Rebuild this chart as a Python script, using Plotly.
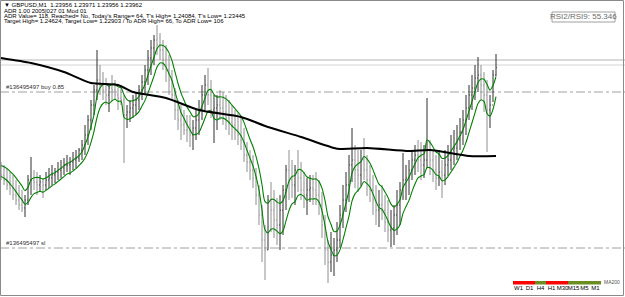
import plotly.graph_objects as go
import pandas as pd

# ---- price data (broker points, 1 point = 0.00001) ----
high_points = [
    123490,123475,123460,123440,123425,123400,123375,123350,123325,123425,
    123515,123450,123440,123425,123410,123440,123460,123475,123460,123490,
    123500,123510,123525,123515,123540,123550,123560,123600,123675,123725,
    123800,123875,124050,123975,123940,123910,123875,123925,123900,123860,
    123875,123825,123775,123800,123825,123835,123875,123925,123975,124050,
    124100,124125,124175,124135,124100,124075,124025,123950,123860,123800,
    123775,123750,123725,123725,123700,123750,123800,123875,123925,123960,
    123900,123825,123825,123850,123840,123825,123800,123775,123750,123740,
    123710,123660,123590,123550,123525,123460,123375,123275,123175,123325,
    123390,123350,123310,123325,123375,123475,123550,123500,123475,123550,
    123490,123440,123410,123425,123425,123440,123400,123340,123225,123100,
    123140,123110,123190,123275,123375,123440,123525,123660,123575,123550,
    123550,123610,123525,123475,123425,123375,123350,123375,123325,123300,
    123250,123275,123350,123390,123535,123475,123500,123550,123575,123600,
    123590,123575,123810,123600,123550,123525,123550,123500,123550,123575,
    123625,123650,123675,123710,123750,123825,123875,123925,123975,124015,
    123975,123940,123900,123825,123950,124030,
]
low_points = [
    123400,123375,123350,123325,123300,123275,123250,123240,123215,123275,
    123325,123350,123325,123340,123310,123350,123360,123375,123385,123400,
    123410,123425,123440,123425,123450,123460,123490,123500,123525,123575,
    123650,123725,123800,123825,123800,123775,123740,123800,123800,123750,
    123775,123485,123660,123690,123710,123725,123750,123800,123825,123875,
    123925,123975,124025,124000,123950,123890,123825,123800,123700,123650,
    123600,123625,123590,123565,123550,123600,123625,123700,123750,123775,
    123710,123585,123650,123700,123675,123650,123625,123600,123600,123575,
    123550,123490,123440,123400,123360,123275,123175,122990,122900,123050,
    123140,123110,123075,123050,123125,123250,123300,123310,123275,123340,
    123300,123260,123225,123290,123275,123275,123225,123110,122975,122885,
    122940,122920,122990,123060,123160,123240,123290,123390,123360,123340,
    123370,123400,123320,123290,123225,123175,123165,123200,123140,123090,
    123065,123075,123125,123175,123300,123300,123325,123400,123425,123440,
    123400,123410,123460,123425,123390,123350,123370,123310,123375,123420,
    123450,123475,123500,123550,123575,123625,123700,123750,123800,123840,
    123800,123740,123540,123660,123790,123920,
]
close_points = [
    123425,123400,123375,123360,123325,123300,123275,123260,123300,123400,
    123400,123390,123375,123390,123375,123400,123410,123425,123440,123450,
    123460,123475,123475,123490,123500,123510,123550,123575,123625,123700,
    123775,123850,123900,123875,123850,123825,123860,123850,123825,123810,
    123800,123725,123740,123760,123775,123800,123850,123890,123950,124010,
    124060,124100,124075,124050,124000,123950,123900,123825,123750,123700,
    123675,123650,123650,123625,123660,123700,123750,123825,123875,123825,
    123750,123760,123775,123760,123740,123710,123690,123675,123650,123625,
    123600,123525,123490,123450,123410,123325,123225,123100,123050,123300,
    123250,123200,123175,123250,123350,123450,123400,123375,123450,123410,
    123350,123325,123350,123360,123350,123325,123275,123175,123050,122990,
    123025,123050,123100,123225,123300,123375,123475,123500,123450,123425,
    123500,123450,123400,123350,123300,123250,123275,123250,123190,123150,
    123160,123225,123275,123350,123400,123410,123450,123500,123525,123500,
    123475,123500,123550,123500,123450,123410,123440,123425,123475,123500,
    123550,123560,123600,123640,123700,123760,123825,123860,123910,123925,
    123875,123825,123750,123775,123925,123962,
]
first_open_point = 123440

# MA200 (black) read at selected bars
ma200_bar = [0, 10, 21, 30, 39, 44, 55, 66, 80, 89, 100, 111, 113, 122, 136, 143, 156, 165]
ma200_price = [1.24010, 1.23985, 1.23940, 1.23885, 1.23875, 1.23840, 1.23810, 1.23750,
               1.23715, 1.23665, 1.23615, 1.23560, 1.23555, 1.23560, 1.23545, 1.23550,
               1.23520, 1.23520]

price_lines = [1.24000, 1.23975]          # solid grey lines
order_levels = [1.23840, 1.23060]         # dash-dot order lines
order_labels = ["#136495497 buy 0.85", "#136495497 sl"]

header_lines = [
    "\u25bc GBPUSD,M1  1.23956 1.23971 1.23956 1.23962",
    "ADR 1.00 2005|027 01 Mod 01",
    "ADR Value= 118, Reached= No, Today's Range= 64, T's High= 1.24084, T's Low= 1.23445",
    "Target High= 1.24624, Target Low= 1.22903 / To ADR High= 66, To ADR Low= 106",
]
rsi_text = "RSI2/RSI9: 55.346"

tf_labels = ["W1", "D1", "H4", "H1", "M30", "M15", "M5", "M1"]
tf_state = ["down", "down", "up", "down", "down", "up", "up", "up"]

# ---- build ----
W, H = 625, 297
def px(x): return x / W
def py(y): return 1 - y / H

high = [p / 1e5 for p in high_points]
low = [p / 1e5 for p in low_points]
close = [p / 1e5 for p in close_points]
opn = [first_open_point / 1e5] + close[:-1]
idx = list(range(len(close)))

sh, sl = pd.Series(high), pd.Series(low)
ma_hi = (0.8 * sh + 0.2 * sl).ewm(span=5, adjust=False).mean()
ma_lo = (0.2 * sh + 0.8 * sl).ewm(span=5, adjust=False).mean()

fig = go.Figure()
fig.add_trace(go.Ohlc(x=idx, open=opn, high=high, low=low, close=close,
                      increasing=dict(line=dict(color="#2e2e2e", width=1)),
                      decreasing=dict(line=dict(color="#8e8e8e", width=1)),
                      tickwidth=0.25, hoverinfo="skip", showlegend=False))
fig.add_trace(go.Scatter(x=idx, y=ma_hi, mode="lines",
                         line=dict(color="#008000", width=1.1, shape="spline", smoothing=0.8),
                         hoverinfo="skip", showlegend=False))
fig.add_trace(go.Scatter(x=idx, y=ma_lo, mode="lines",
                         line=dict(color="#008000", width=1.1, shape="spline", smoothing=0.8),
                         hoverinfo="skip", showlegend=False))
fig.add_trace(go.Scatter(x=ma200_bar, y=ma200_price, mode="lines",
                         line=dict(color="#000000", width=2, shape="spline", smoothing=0.6),
                         hoverinfo="skip", showlegend=False))

# timeframe strip
fig.add_trace(go.Bar(x=tf_labels, y=[1] * len(tf_labels), xaxis="x2", yaxis="y2",
                     marker=dict(color=["#ff0000" if s == "down" else "#6b8e23" for s in tf_state],
                                 line=dict(width=0)),
                     width=1, hoverinfo="skip", showlegend=False))

shapes = []
for lv, c in zip(price_lines, ["#b4b4b4", "#d4d4d4"]):
    shapes.append(dict(type="line", xref="paper", yref="y", x0=0, x1=1, y0=lv, y1=lv,
                       line=dict(color=c, width=1), layer="below"))
for lv in order_levels:
    shapes.append(dict(type="line", xref="paper", yref="y", x0=0, x1=1, y0=lv, y1=lv,
                       line=dict(color="#a0a0a0", width=1, dash="dashdot"), layer="below"))
# chart frame
shapes.append(dict(type="rect", xref="paper", yref="paper", x0=px(0.5), x1=px(623.5),
                   y0=py(295.5), y1=py(0.5), line=dict(color="#8a8a8a", width=1)))
# RSI box
shapes.append(dict(type="rect", xref="paper", yref="paper", x0=px(552), x1=px(615),
                   y0=py(22), y1=py(12), line=dict(color="#a0a0a0", width=1)))

ann = []
for i, t in enumerate(header_lines):
    ann.append(dict(text=t, xref="paper", yref="paper", x=px(2), y=py([5, 11, 16, 21][i]),
                    xanchor="left", yanchor="middle", showarrow=False,
                    font=dict(family="Liberation Sans", size=6, color="#000000")))
for lv, t in zip(order_levels, order_labels):
    ann.append(dict(text=t, xref="paper", yref="y", x=px(4), y=lv, xanchor="left",
                    yanchor="bottom", yshift=0, showarrow=False,
                    font=dict(family="Liberation Sans", size=6, color="#303030")))
ann.append(dict(text=rsi_text, xref="paper", yref="paper", x=px(583.5), y=py(17),
                xanchor="center", yanchor="middle", showarrow=False,
                font=dict(family="Liberation Sans", size=8, color="#6a6a6a")))
ann.append(dict(text="MA200", xref="paper", yref="paper", x=px(602), y=py(282),
                xanchor="left", yanchor="middle", showarrow=False,
                font=dict(family="Liberation Sans", size=5, color="#505050")))

fig.update_layout(
    width=W, height=H, margin=dict(l=0, r=0, t=0, b=0),
    paper_bgcolor="white", plot_bgcolor="white",
    xaxis=dict(range=[-1/3, 208], visible=False, rangeslider=dict(visible=False), fixedrange=True),
    yaxis=dict(range=[1.22815, 1.24300], visible=False, fixedrange=True),
    xaxis2=dict(domain=[px(513), px(601)], anchor="y2", showgrid=False, zeroline=False,
                showline=False, ticks="", tickangle=0, ticklabelstandoff=-2,
                tickfont=dict(family="Liberation Sans", size=6, color="#000"),
                fixedrange=True),
    yaxis2=dict(domain=[py(284.5), py(280.5)], anchor="x2", range=[0, 1], visible=False,
                fixedrange=True),
    bargap=0, shapes=shapes, annotations=ann, showlegend=False,
)
fig.write_html("out.html")
